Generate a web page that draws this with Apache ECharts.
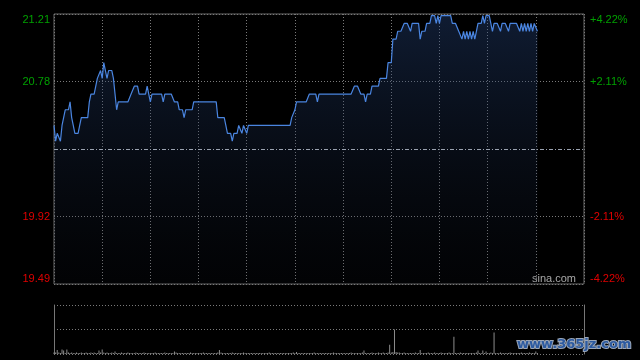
<!DOCTYPE html>
<html>
<head>
<meta charset="utf-8">
<script src="https://cdn.jsdelivr.net/npm/echarts@6/dist/echarts.min.js"></script>
<style>
html, body { margin: 0; padding: 0; background: #000; }
#chart { width: 640px; height: 360px; }
</style>
</head>
<body>
<div id="chart"></div>
<script>
// 昨收
var preClose = 20.35;
// 价格轴刻度
var priceTicks = [19.49, 19.92, 20.35, 20.78, 21.21];
var pctTicks = [-4.22, -2.11, 0, 2.11, 4.22];

// 分时价格, 每分钟一个点 (9:30 起)
var prices = [
	20.50,20.40,20.45,20.45,20.40,20.50,20.50,20.60,20.60,20.60,
	20.65,20.55,20.50,20.45,20.45,20.45,20.50,20.55,20.55,20.55,
	20.55,20.55,20.65,20.70,20.70,20.70,20.75,20.80,20.80,20.85,
	20.80,20.90,20.85,20.80,20.85,20.85,20.85,20.80,20.70,20.60,
	20.65,20.65,20.65,20.65,20.65,20.65,20.65,20.65,20.70,20.70,
	20.75,20.75,20.75,20.70,20.70,20.70,20.70,20.70,20.75,20.70,
	20.65,20.70,20.70,20.70,20.70,20.70,20.70,20.70,20.65,20.70,
	20.70,20.70,20.70,20.70,20.70,20.65,20.65,20.65,20.60,20.60,
	20.60,20.55,20.60,20.60,20.60,20.60,20.60,20.65,20.65,20.65,
	20.65,20.65,20.65,20.65,20.65,20.65,20.65,20.65,20.65,20.65,
	20.65,20.65,20.55,20.55,20.55,20.55,20.55,20.50,20.45,20.45,
	20.45,20.40,20.45,20.45,20.45,20.50,20.50,20.45,20.50,20.50,
	20.45,20.50,20.50,20.50,20.50,20.50,20.50,20.50,20.50,20.50,
	20.50,20.50,20.50,20.50,20.50,20.50,20.50,20.50,20.50,20.50,
	20.50,20.50,20.50,20.50,20.50,20.50,20.50,20.50,20.55,20.55,
	20.60,20.65,20.65,20.65,20.65,20.65,20.65,20.65,20.65,20.70,
	20.70,20.70,20.70,20.70,20.65,20.70,20.70,20.70,20.70,20.70,
	20.70,20.70,20.70,20.70,20.70,20.70,20.70,20.70,20.70,20.70,
	20.70,20.70,20.70,20.70,20.70,20.70,20.70,20.75,20.75,20.75,
	20.75,20.70,20.70,20.70,20.65,20.70,20.70,20.70,20.75,20.75,
	20.75,20.75,20.75,20.80,20.80,20.80,20.80,20.80,20.90,20.90,
	20.90,21.05,21.05,21.05,21.10,21.10,21.10,21.10,21.15,21.15,
	21.15,21.15,21.10,21.15,21.15,21.15,21.15,21.15,21.05,21.10,
	21.10,21.10,21.15,21.15,21.15,21.20,21.20,21.20,21.15,21.20,
	21.15,21.20,21.20,21.20,21.20,21.20,21.20,21.20,21.15,21.15,
	21.15,21.15,21.10,21.10,21.05,21.10,21.05,21.10,21.05,21.10,
	21.05,21.10,21.05,21.10,21.15,21.15,21.15,21.20,21.15,21.20,
	21.20,21.20,21.15,21.10,21.15,21.15,21.15,21.15,21.10,21.15,
	21.15,21.15,21.15,21.10,21.15,21.15,21.15,21.15,21.15,21.15,
	21.10,21.15,21.10,21.15,21.10,21.15,21.10,21.15,21.10,21.15,
	21.15,21.10
];

// 成交量 (相对值, 满格 100)
var volumes = [
	3,3,8,3,2,9,7,2,9,3,
	2,3,2,2,3,2,2,3,2,2,
	3,2,2,3,2,3,2,2,7,3,
	9,3,2,3,2,2,3,2,5,2,
	2,2,3,2,2,2,3,2,2,2,
	2,3,2,2,2,2,3,2,2,2,
	2,2,2,3,2,2,2,2,2,3,
	2,2,2,2,2,5,3,2,2,2,
	2,2,2,2,2,3,2,2,2,2,
	2,2,2,3,2,2,2,2,2,2,
	2,2,3,8,3,2,2,2,2,2,
	2,3,2,2,2,2,2,2,3,2,
	2,2,2,2,2,2,2,2,2,2,
	2,2,2,2,3,2,2,2,2,2,
	2,2,2,2,2,2,2,2,2,3,
	2,4,2,2,2,2,2,2,2,2,
	2,2,3,2,2,2,2,2,2,2,
	2,2,2,2,3,2,2,2,2,2,
	2,2,2,2,2,3,2,2,2,2,
	2,2,3,7,2,2,2,2,3,2,
	2,2,3,2,2,3,2,2,3,19,
	3,4,50,4,3,3,2,2,3,2,
	2,2,2,2,2,3,2,2,8,2,
	2,2,2,3,2,2,2,3,2,2,
	2,3,2,2,2,2,3,2,2,35,
	2,2,2,3,2,2,2,2,2,2,
	2,2,2,3,7,2,2,7,2,5,
	2,2,3,2,44,2,2,2,3,2,
	2,2,2,2,3,2,2,2,2,2,
	2,3,2,2,2,2,3,2,2,2,
	5,2
];

var upColor = '#00a000';
var downColor = '#e00000';
var gridColor = '#7a7a7a';

function priceColor(v) {
	return v > preClose + 0.001 ? upColor : downColor;
}

var myChart = echarts.init(document.getElementById('chart'));
var option = {
	backgroundColor: '#000',
	animation: false,
	grid: [
		{left: 54, top: 14, width: 530, height: 270, show: true, borderColor: '#6a6a6a', borderWidth: 1},
		{left: 54, top: 305, width: 530, height: 49}
	],
	xAxis: [
		{
			type: 'value', gridIndex: 0, min: 0, max: 330, interval: 30,
			axisLine: {show: false}, axisTick: {show: false}, axisLabel: {show: false},
			splitLine: {show: true, lineStyle: {color: gridColor, type: [1, 2]}}
		},
		{
			type: 'value', gridIndex: 1, min: 0, max: 330, interval: 30,
			axisLine: {show: false}, axisTick: {show: false}, axisLabel: {show: false},
			splitLine: {show: false}
		}
	],
	yAxis: [
		{
			type: 'value', gridIndex: 0, position: 'left',
			min: priceTicks[0], max: priceTicks[4], interval: 0.43,
			axisLine: {show: false}, axisTick: {show: false},
			axisLabel: {
				margin: 4,
				fontSize: 11,
				fontFamily: 'Liberation Sans, Arial, sans-serif',
				verticalAlignMinLabel: 'bottom',
				verticalAlignMaxLabel: 'top',
				formatter: function (v) {
					return Math.abs(v - preClose) < 0.001 ? '' : v.toFixed(2);
				},
				color: function (v) { return priceColor(Number(v)); }
			},
			splitLine: {
				show: true,
				lineStyle: {color: [gridColor, gridColor, 'rgba(0,0,0,0)', gridColor, gridColor], type: [1, 2]}
			}
		},
		{
			type: 'value', gridIndex: 0, position: 'right',
			min: pctTicks[0], max: pctTicks[4], interval: 2.11,
			axisLine: {show: false}, axisTick: {show: false},
			axisLabel: {
				margin: 6,
				fontSize: 11,
				fontFamily: 'Liberation Sans, Arial, sans-serif',
				verticalAlignMinLabel: 'bottom',
				verticalAlignMaxLabel: 'top',
				formatter: function (v) {
					if (Math.abs(v) < 0.001) return '';
					return (v > 0 ? '+' : '') + v.toFixed(2) + '%';
				},
				color: function (v) { return Number(v) > 0 ? upColor : downColor; }
			},
			splitLine: {show: false}
		},
		{
			type: 'value', gridIndex: 1, position: 'left', min: 0, max: 100, interval: 50,
			axisLine: {show: true, lineStyle: {color: '#777', width: 1}},
			axisTick: {show: false}, axisLabel: {show: false},
			splitLine: {show: true, lineStyle: {color: gridColor, type: [1, 2]}}
		},
		{
			type: 'value', gridIndex: 1, position: 'right', min: 0, max: 100, interval: 50,
			axisLine: {show: true, lineStyle: {color: '#777', width: 1}},
			axisTick: {show: false}, axisLabel: {show: false},
			splitLine: {show: false}
		}
	],
	graphic: [
		{
			type: 'text', left: 532, top: 273, silent: true,
			style: {text: 'sina.com', fill: '#a8a8a8', font: '11px "Liberation Sans", Arial, sans-serif'}
		},
		{
			type: 'text', left: 516, top: 337, silent: true, z: 100,
			style: {
				text: 'www.365jz.com', fill: '#2c5aa0',
				stroke: '#9aa6b8', lineWidth: 2,
				font: 'bold 13px "DejaVu Sans", sans-serif'
			}
		}
	],
	series: [
		{
			name: '价格',
			type: 'line',
			xAxisIndex: 0, yAxisIndex: 0,
			data: prices.map(function (p, i) { return [i, p]; }),
			symbol: 'none',
			lineStyle: {color: '#4a85e0', width: 1.2},
			areaStyle: {
				color: new echarts.graphic.LinearGradient(0, 0, 0, 1, [
					{offset: 0, color: 'rgba(40,72,130,0.55)'},
					{offset: 1, color: 'rgba(20,28,45,0.15)'}
				])
			},
			markLine: {
				silent: true,
				symbol: ['none', 'none'],
				label: {show: false},
				lineStyle: {color: '#9aa2b0', type: [4, 2, 1, 2], width: 1},
				data: [{yAxis: preClose}]
			}
		},
		{
			name: '成交量',
			type: 'bar',
			xAxisIndex: 1, yAxisIndex: 2,
			data: volumes.map(function (v, i) { return [i, v]; }),
			barWidth: 1,
			itemStyle: {color: '#8c8c8c'}
		}
	]
};
myChart.setOption(option);
</script>
</body>
</html>
